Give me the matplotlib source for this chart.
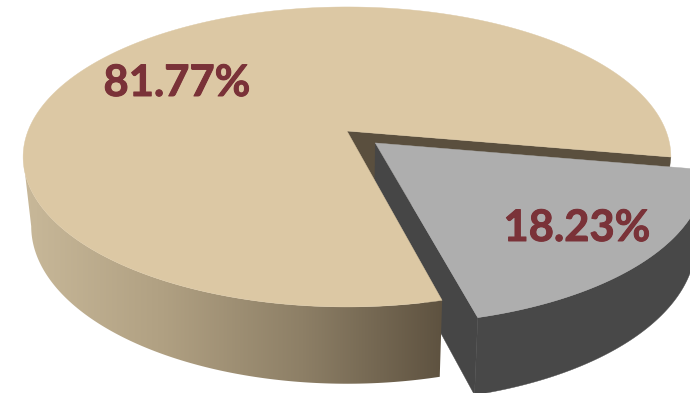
import numpy as np
import matplotlib
matplotlib.use("Agg")
import matplotlib.pyplot as plt
import matplotlib.patheffects as pe
from matplotlib.colors import LinearSegmentedColormap
from matplotlib.patches import Polygon

# Pie data
categories = ["Main", "Other"]
shares = [81.77, 18.23]

# Pie styling and projection
START_DEG = -10.0      # boundary between the two slices
CX, APEX_Y = 347.0, 131.0
SX, SY = 319.0, 145.5  # horizontal and vertical radius factors
K = 0.173              # perspective foreshortening
DEPTH = 68.0           # offset of the lower rim's centre in pixels
BOTTOM_SX = 0.975      # lower rim is slightly narrower
BOTTOM_SY = 1.05       # and slightly deeper
EXPLODE = 0.119
SILHOUETTE_DEG = 190.0 # angle where the side wall meets the left outline

fig = plt.figure(figsize=(6.9, 3.93), dpi=100, facecolor="white")
ax = fig.add_axes([0, 0, 1, 1])


def project(x, y, bottom=False):
    w = 1 + K * y
    sx = BOTTOM_SX if bottom else 1.0
    sy = BOTTOM_SY if bottom else 1.0
    drop = DEPTH if bottom else 0.0
    return CX + sx * SX * x / w, APEX_Y + drop - sy * SY * y / w


def rim(t0, t1, off=(0, 0), bottom=False, n=160):
    t = np.radians(np.linspace(t0, t1, n))
    return np.column_stack(project(np.cos(t) + off[0], np.sin(t) + off[1], bottom))


def apex(off=(0, 0), bottom=False):
    return np.column_stack(project(np.array([off[0]]), np.array([off[1]]), bottom))


def add(pts, color, z):
    ax.add_patch(Polygon(pts, closed=True, fc=color, ec=color, lw=0.3, zorder=z))


sweep_other = shares[1] / sum(shares) * 360
end_other = START_DEG - sweep_other
mid = np.radians((START_DEG + end_other) / 2)
off = (EXPLODE * np.cos(mid), EXPLODE * np.sin(mid))

TOP_MAIN = "#dcc8a4"
CUT_MAIN = "#5a4f3e"
TOP_OTHER = "#aeaeae"
WALL_OTHER = "#484848"

# Inner cut of the large slice, seen behind the pulled-out slice
c0 = rim(START_DEG, START_DEG, n=1)
c1 = rim(START_DEG, START_DEG, bottom=True, n=1)
add(np.vstack([apex(), c0, c1, apex(bottom=True)]), CUT_MAIN, 1)

# Pulled-out slice: cut wall, outer wall, top
p_front = rim(end_other, end_other, off, n=1)
p_front_b = rim(end_other, end_other, off, bottom=True, n=1)
add(np.vstack([apex(off), p_front, p_front_b, apex(off, True)]), "#464646", 2)
add(np.vstack([rim(START_DEG, end_other, off),
               rim(end_other, START_DEG, off, bottom=True)]), WALL_OTHER, 3)
add(np.vstack([apex(off), rim(START_DEG, end_other, off)]), TOP_OTHER, 4)

# Large slice: shaded outer wall, then top
wall_end = end_other + 360
wall = Polygon(np.vstack([rim(SILHOUETTE_DEG, wall_end),
                          rim(wall_end, SILHOUETTE_DEG, bottom=True)]),
               closed=True, fc="none", ec="none", transform=ax.transData)
ax.add_patch(wall)
shade = LinearSegmentedColormap.from_list(
    "wall", ["#c8b899", "#b0a082", "#8d7f66", "#5e5240"])
img = ax.imshow(np.linspace(0, 1, 256)[None, :], cmap=shade, aspect="auto",
                extent=(24, 443, 393, 100), zorder=5)
img.set_clip_path(wall)
add(np.vstack([apex(), rim(START_DEG, wall_end, n=400)]), TOP_MAIN, 6)

# Percentage labels
font = dict(family="Lato", fontweight="bold", fontsize=31.3, color="#7a3238",
            ha="center", va="center", zorder=7,
            path_effects=[pe.withStroke(linewidth=0.7, foreground="#7a3238")])
ax.text(177, 83, f"{shares[0]:.2f}%", **font)
ax.text(577, 228, f"{shares[1]:.2f}%", **font)

ax.set_xlim(0, 690)
ax.set_ylim(393, 0)
ax.axis("off")
fig.savefig("out.png", dpi=100, facecolor="white")
